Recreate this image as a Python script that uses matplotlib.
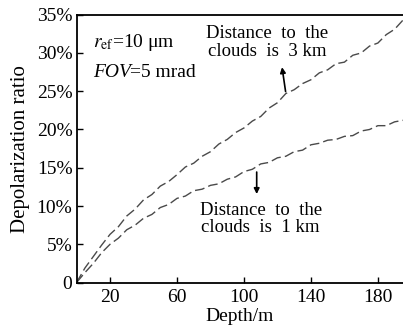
import matplotlib
matplotlib.use("Agg")
import matplotlib.pyplot as plt
from matplotlib.ticker import FixedLocator

depth = [0, 5, 10, 15, 20, 25, 30, 35, 40, 45, 50, 55, 60, 65, 70, 75, 80, 85, 90, 95,
         100, 105, 110, 115, 120, 125, 130, 135, 140, 145, 150, 155, 160, 165, 170, 175,
         180, 185, 190, 195]
ratio_3km = [0.0, 1.9, 3.4, 4.9, 6.3, 7.3, 8.7, 9.6, 10.8, 11.5, 12.6, 13.2, 14.1, 15.1, 15.6,
             16.5, 17.1, 18.1, 18.7, 19.6, 20.2, 21.1, 21.7, 22.8, 23.5, 24.7, 25.2, 26.0,
             26.5, 27.4, 27.8, 28.6, 28.8, 29.7, 30.0, 30.9, 31.3, 32.4, 33.1, 34.3]
ratio_1km = [0.0, 1.3, 2.5, 3.9, 5.0, 5.8, 6.9, 7.5, 8.4, 8.9, 9.8, 10.2, 11.0, 11.3, 12.0,
             12.2, 12.7, 12.9, 13.5, 13.8, 14.5, 14.8, 15.5, 15.7, 16.3, 16.5, 17.1, 17.3,
             18.0, 18.2, 18.6, 18.7, 19.1, 19.2, 19.8, 20.0, 20.5, 20.5, 21.0, 21.2]

xticks = [20, 60, 100, 140, 180]
yticks = [0, 5, 10, 15, 20, 25, 30, 35]
ytick_labels = ["0", "5%", "10%", "15%", "20%", "25%", "30%", "35%"]

plt.rcParams["font.family"] = ["Liberation Serif", "DejaVu Serif"]
plt.rcParams["mathtext.fontset"] = "stix"

fig = plt.figure(figsize=(4.03, 3.27), dpi=100)
ax = fig.add_axes([0.19, 0.136, 0.81, 0.819])

ax.plot(depth, ratio_3km, color="#4a4a4a", lw=1.0, dashes=(7, 3))
ax.plot(depth, ratio_1km, color="#4a4a4a", lw=1.0, dashes=(7, 3))

ax.set_xlim(0, 195)
ax.set_ylim(0, 35)
ax.xaxis.set_major_locator(FixedLocator(xticks))
ax.set_yticks(yticks)
ax.set_yticklabels(ytick_labels)
ax.tick_params(direction="in", length=4, width=1, labelsize=14, colors="black")
ax.tick_params(axis="x", pad=5)
ax.tick_params(axis="y", pad=3)
ax.spines["right"].set_visible(False)
for s in ["left", "bottom", "top"]:
    ax.spines[s].set_linewidth(1.3)

ax.set_xlabel("Depth/m", fontsize=14, labelpad=1)
ax.set_ylabel("Depolarization ratio", fontsize=15, labelpad=5)

ax.text(0.05, 0.898, r"$r_{\rm ef}$=10 μm", transform=ax.transAxes, fontsize=14, va="center")
ax.text(0.05, 0.786, "FOV", transform=ax.transAxes, fontsize=14, style="italic", va="center")
ax.text(0.165, 0.786, "=5 mrad", transform=ax.transAxes, fontsize=14, va="center")

ax.text(114, 31.4, "Distance  to  the\nclouds  is  3 km", ha="center", va="center",
        fontsize=13.5, linespacing=1.05)
ax.annotate("", xy=(122.5, 28.5), xytext=(125.1, 24.6),
            arrowprops=dict(arrowstyle="-|>", color="black", lw=1.2, mutation_scale=8))
ax.text(110, 8.3, "Distance  to  the\nclouds  is  1 km", ha="center", va="center",
        fontsize=13.5, linespacing=1.05)
ax.annotate("", xy=(107.6, 11.2), xytext=(107.6, 14.8),
            arrowprops=dict(arrowstyle="-|>", color="black", lw=1.2, mutation_scale=8))

fig.savefig("out.png", dpi=100)
